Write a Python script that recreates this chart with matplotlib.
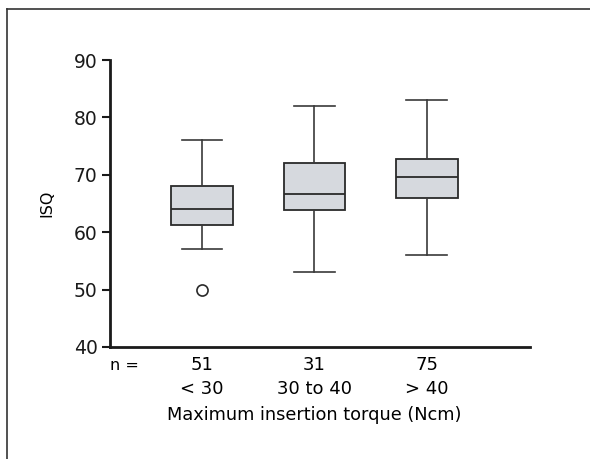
import matplotlib.pyplot as plt
from matplotlib.lines import Line2D

# box statistics
groups = ['< 30', '30 to 40', '> 40']
n_counts = ['51', '31', '75']
whisker_lo = [57, 53, 56]
q1 = [61.2, 63.8, 66]
medians = [64, 66.7, 69.7]
q3 = [68, 72, 72.8]
whisker_hi = [76, 82, 83]
outliers = [[50], [], []]

plt.rcParams['font.family'] = ['DejaVu Sans']

fig = plt.figure(figsize=(5.9, 4.59), dpi=100)
ax = fig.add_axes([110/590, 1 - 347/459, 420/590, 287/459])

stats = []
for i in range(len(groups)):
    stats.append({'whislo': whisker_lo[i], 'q1': q1[i], 'med': medians[i],
                  'q3': q3[i], 'whishi': whisker_hi[i], 'fliers': outliers[i]})

ax.bxp(stats, positions=[1, 2, 3], widths=0.55, patch_artist=True,
       boxprops=dict(facecolor='#d6d9de', edgecolor='#2a2a2a', linewidth=1.3),
       medianprops=dict(color='#2a2a2a', linewidth=1.3),
       whiskerprops=dict(color='#3a3a3a', linewidth=1.2),
       capprops=dict(color='#3a3a3a', linewidth=1.2),
       flierprops=dict(marker='o', markerfacecolor='white', markeredgecolor='#2a2a2a',
                       markersize=8, markeredgewidth=1.2),
       capwidths=0.36)

ax.set_xlim(0.18, 3.92)
ax.set_ylim(40, 90)
ax.set_yticks([40, 50, 60, 70, 80, 90])
ax.set_xticks([])
ax.spines['top'].set_visible(False)
ax.spines['right'].set_visible(False)
ax.spines['left'].set_linewidth(2)
ax.spines['bottom'].set_linewidth(2)
ax.spines['left'].set_color('#1a1a1a')
ax.spines['bottom'].set_color('#1a1a1a')
ax.tick_params(axis='y', length=6, width=1.5, labelsize=13.5, colors='#1a1a1a', pad=3)
ax.set_ylabel('ISQ', fontsize=11.5, labelpad=14)

tr = ax.get_xaxis_transform()
ax.text(0.31, -0.063, 'n =', transform=tr, ha='center', va='center', fontsize=11.5)
for i in range(len(groups)):
    ax.text(i + 1, -0.063, n_counts[i], transform=tr, ha='center', va='center', fontsize=13)
    ax.text(i + 1, -0.147, groups[i], transform=tr, ha='center', va='center', fontsize=13)
ax.text(2, -0.237, 'Maximum insertion torque (Ncm)', transform=tr,
        ha='center', va='center', fontsize=12.8)

# frame lines on the left and top of the figure
fig.lines.append(Line2D([7/590, 7/590], [0, 1 - 9/459], transform=fig.transFigure,
                        color='#333333', linewidth=1.2))
fig.lines.append(Line2D([7/590, 1], [1 - 9/459, 1 - 9/459], transform=fig.transFigure,
                        color='#333333', linewidth=1.2))

fig.savefig('out.png', dpi=100)
